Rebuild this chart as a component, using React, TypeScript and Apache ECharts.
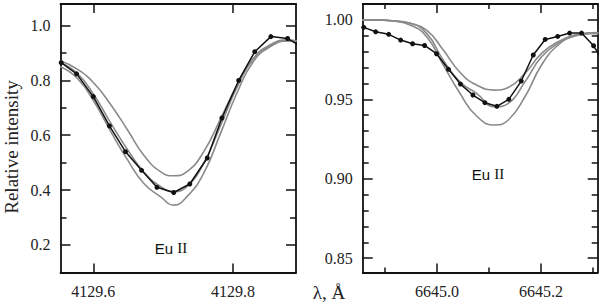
import React, { useEffect, useRef } from "react";
import * as echarts from "echarts";

// ---- Left panel (Eu II 4129.7) ----
const leftObsWl = [4129.554, 4129.576, 4129.600, 4129.623, 4129.646, 4129.669, 4129.691, 4129.715, 4129.738, 4129.763, 4129.784, 4129.808, 4129.831, 4129.854, 4129.878, 4129.901];
const leftObsI = [0.865, 0.824, 0.741, 0.634, 0.540, 0.472, 0.410, 0.391, 0.422, 0.517, 0.663, 0.800, 0.905, 0.960, 0.953, 0.918];
const leftModelWl = [4129.553, 4129.577, 4129.601, 4129.625, 4129.649, 4129.672, 4129.696, 4129.715, 4129.734, 4129.758, 4129.782, 4129.806, 4129.829, 4129.853, 4129.877, 4129.890];
const leftModelHigh = [0.872, 0.841, 0.790, 0.711, 0.619, 0.528, 0.467, 0.452, 0.467, 0.540, 0.660, 0.786, 0.881, 0.930, 0.948, 0.945];
const leftModelMid = [0.865, 0.826, 0.747, 0.644, 0.547, 0.467, 0.413, 0.394, 0.413, 0.498, 0.635, 0.777, 0.879, 0.926, 0.945, 0.944];
const leftModelLow = [0.850, 0.808, 0.723, 0.613, 0.510, 0.425, 0.376, 0.345, 0.376, 0.462, 0.607, 0.757, 0.869, 0.923, 0.944, 0.944];
const leftXTicks = [4129.6, 4129.8];
const leftYTicks = [0.2, 0.4, 0.6, 0.8, 1.0];
const leftYMinor = [0.3, 0.5, 0.7, 0.9];

// ---- Right panel (Eu II 6645.1) ----
const rightObsWl = [6644.859, 6644.882, 6644.907, 6644.930, 6644.953, 6644.976, 6644.999, 6645.022, 6645.045, 6645.069, 6645.092, 6645.115, 6645.138, 6645.162, 6645.185, 6645.208, 6645.232, 6645.255, 6645.278, 6645.301, 6645.324];
const rightObsI = [0.9953, 0.9925, 0.9909, 0.9873, 0.9850, 0.9839, 0.9787, 0.9689, 0.9596, 0.9527, 0.9479, 0.9456, 0.9500, 0.9615, 0.9779, 0.9877, 0.9896, 0.9917, 0.9917, 0.9837, 0.9720];
const rightModelWl = [6644.857, 6644.883, 6644.915, 6644.947, 6644.980, 6645.012, 6645.044, 6645.076, 6645.111, 6645.137, 6645.169, 6645.201, 6645.233, 6645.264, 6645.297, 6645.309];
const rightModelHigh = [1.0, 1.0, 0.9995, 0.998, 0.9936, 0.981, 0.967, 0.959, 0.9558, 0.9575, 0.9663, 0.9789, 0.9862, 0.9904, 0.9919, 0.992];
const rightModelMid = [1.0, 1.0, 0.9993, 0.998, 0.9915, 0.9747, 0.961, 0.9538, 0.9453, 0.9475, 0.961, 0.9768, 0.9852, 0.9898, 0.9914, 0.9915];
const rightModelLow = [1.0, 1.0, 0.9993, 0.997, 0.9894, 0.9716, 0.9538, 0.9395, 0.9338, 0.937, 0.9516, 0.9716, 0.9842, 0.9898, 0.9914, 0.9915];
const rightXTicks = [6645.0, 6645.2];
const rightXMinor = [6644.9, 6645.1, 6645.3];
const rightYTicks = [0.85, 0.90, 0.95, 1.00];
const rightYMinor = [0.86, 0.87, 0.88, 0.89, 0.91, 0.92, 0.93, 0.94, 0.96, 0.97, 0.98, 0.99];

const yLabel = "Relative intensity";
const xLabel = "λ, Å";
const lineName = "Eu II";

const SERIF = "'Liberation Serif', 'Times New Roman', serif";
const SANS = "'Liberation Sans', Arial, sans-serif";
const FRAME = "#111";
const GRAY = "#8a8a8a";

function zip(a: number[], b: number[]) {
  return a.map((v, i) => [v, b[i]]);
}

function makeAxis(
  kind: "x" | "y",
  grid: number,
  pos: string,
  min: number,
  max: number,
  ticks: number[],
  len: number,
  showLine: boolean,
  labels: boolean,
  digits: number
) {
  return {
    type: "value",
    gridIndex: grid,
    position: pos,
    min,
    max,
    axisLine: { show: showLine, onZero: false, lineStyle: { color: FRAME, width: 1.8 } },
    axisTick: {
      show: true,
      inside: true,
      length: len,
      customValues: ticks,
      lineStyle: { color: FRAME, width: 1.5 },
    },
    axisLabel: {
      show: labels,
      customValues: labels ? ticks : undefined,
      formatter: (v: number) => v.toFixed(digits),
      fontFamily: SERIF,
      fontSize: 16,
      color: "#222",
      margin: kind === "x" ? 11 : 10,
    },
    splitLine: { show: false },
  };
}

export default function App() {
  const ref = useRef<HTMLDivElement>(null);
  useEffect(() => {
    if (!ref.current) return;
    const chart = echarts.init(ref.current, null, { renderer: "svg" });
    const L = { min: 4129.553, max: 4129.890 };
    const LY = { min: 0.099, max: 1.079 };
    const R = { min: 6644.857, max: 6645.309 };
    const RY = { min: 0.841, max: 1.01 };

    const xAxis = [
      makeAxis("x", 0, "bottom", L.min, L.max, leftXTicks, 9, true, true, 1),
      makeAxis("x", 0, "top", L.min, L.max, leftXTicks, 9, true, false, 1),
      makeAxis("x", 1, "bottom", R.min, R.max, rightXTicks, 9, true, true, 1),
      makeAxis("x", 1, "top", R.min, R.max, rightXTicks, 9, true, false, 1),
      makeAxis("x", 1, "bottom", R.min, R.max, rightXMinor, 5, false, false, 1),
      makeAxis("x", 1, "top", R.min, R.max, rightXMinor, 5, false, false, 1),
    ];
    const yAxis = [
      makeAxis("y", 0, "left", LY.min, LY.max, leftYTicks, 10, true, true, 1),
      makeAxis("y", 0, "right", LY.min, LY.max, leftYTicks, 10, true, false, 1),
      makeAxis("y", 0, "left", LY.min, LY.max, leftYMinor, 6, false, false, 1),
      makeAxis("y", 0, "right", LY.min, LY.max, leftYMinor, 6, false, false, 1),
      makeAxis("y", 1, "left", RY.min, RY.max, rightYTicks, 10, true, true, 2),
      makeAxis("y", 1, "right", RY.min, RY.max, rightYTicks, 10, true, false, 2),
      makeAxis("y", 1, "left", RY.min, RY.max, rightYMinor, 6, false, false, 2),
      makeAxis("y", 1, "right", RY.min, RY.max, rightYMinor, 6, false, false, 2),
    ];

    const model = (name: string, xi: number, yi: number, wl: number[], v: number[]) => ({
      name,
      type: "line",
      xAxisIndex: xi,
      yAxisIndex: yi,
      data: zip(wl, v),
      showSymbol: false,
      smooth: 0.5,
      clip: true,
      z: 2,
      lineStyle: { color: GRAY, width: 1.6, join: "round", cap: "round" },
      silent: true,
    });
    const obs = (xi: number, yi: number, wl: number[], v: number[]) => ({
      name: "obs",
      type: "line",
      xAxisIndex: xi,
      yAxisIndex: yi,
      data: zip(wl, v),
      symbol: "circle",
      symbolSize: 5,
      showSymbol: true,
      clip: true,
      z: 3,
      itemStyle: { color: "#111" },
      lineStyle: { color: "#111", width: 1.5 },
    });

    chart.setOption({
      animation: false,
      backgroundColor: "#fff",
      grid: [
        { left: 60.5, right: 304, top: 4, bottom: 30.5 },
        { left: 362.7, right: 2.3, top: 4, bottom: 30.5 },
      ],
      xAxis,
      yAxis,
      series: [
        model("high", 0, 0, leftModelWl, leftModelHigh),
        model("mid", 0, 0, leftModelWl, leftModelMid),
        model("low", 0, 0, leftModelWl, leftModelLow),
        obs(0, 0, leftObsWl, leftObsI),
        model("high", 2, 4, rightModelWl, rightModelHigh),
        model("mid", 2, 4, rightModelWl, rightModelMid),
        model("low", 2, 4, rightModelWl, rightModelLow),
        obs(2, 4, rightObsWl, rightObsI),
      ],
      graphic: [
        {
          type: "text",
          x: 11,
          y: 147,
          rotation: Math.PI / 2,
          style: {
            text: yLabel,
            font: `19px ${SERIF}`,
            fill: "#222",
            textAlign: "center",
            textVerticalAlign: "middle",
          },
        },
        {
          type: "text",
          x: 329,
          y: 292,
          style: {
            text: xLabel,
            font: `19px ${SERIF}`,
            fill: "#222",
            textAlign: "center",
            textVerticalAlign: "middle",
          },
        },
        {
          type: "text",
          x: 171,
          y: 248,
          style: {
            text: "{a|Eu }{b|II}",
            textAlign: "center",
            textVerticalAlign: "middle",
            rich: {
              a: { font: `15px ${SANS}`, fill: "#111" },
              b: { font: `15px ${SERIF}`, fill: "#111" },
            },
          },
        },
        {
          type: "text",
          x: 488,
          y: 174,
          style: {
            text: "{a|Eu }{b|II}",
            textAlign: "center",
            textVerticalAlign: "middle",
            rich: {
              a: { font: `15px ${SANS}`, fill: "#111" },
              b: { font: `15px ${SERIF}`, fill: "#111" },
            },
          },
        },
      ],
    });
    return () => chart.dispose();
  }, []);
  return (
    <div
      ref={ref}
      title={lineName}
      style={{ position: "fixed", left: 0, top: 0, width: 600, height: 303, background: "#fff" }}
    />
  );
}
